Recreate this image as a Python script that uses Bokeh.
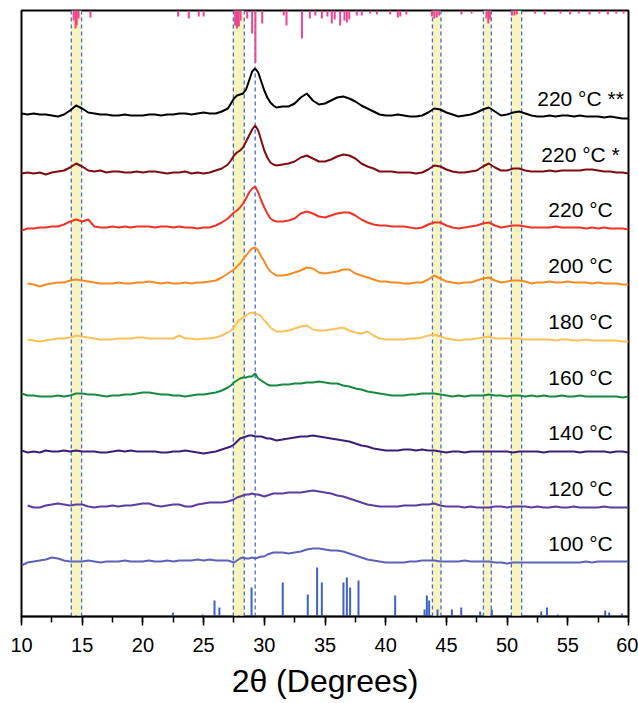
from bokeh.plotting import figure
from bokeh.models import Range1d, SingleIntervalTicker
from bokeh.embed import file_html
from bokeh.resources import INLINE
from bokeh.core.properties import value

nan = float("nan")

# 2-theta sampling grid (degrees)
two_theta = [10.0, 10.5, 11.0, 11.5, 12.0, 12.5, 13.0, 13.5, 14.0, 14.5, 15.0, 15.5, 16.0, 16.5, 17.0, 17.5,
             18.0, 18.5, 19.0, 19.5, 20.0, 20.5, 21.0, 21.5, 22.0, 22.5, 23.0, 23.5, 24.0, 24.5, 25.0, 25.5,
             26.0, 26.5, 27.0,
             27.25, 27.5, 27.75, 28.0, 28.25, 28.5, 28.75, 29.0, 29.25, 29.5, 29.75, 30.0, 30.25, 30.5, 30.75, 31.0,
             31.5, 32.0, 32.5, 33.0, 33.5, 34.0, 34.5, 35.0, 35.5, 36.0, 36.5, 37.0, 37.5, 38.0, 38.5, 39.0,
             39.5, 40.0, 40.5, 41.0, 41.5, 42.0, 42.5, 43.0, 43.5, 44.0, 44.5, 45.0, 45.5, 46.0, 46.5, 47.0,
             47.5, 48.0, 48.5, 49.0, 49.5, 50.0, 50.5, 51.0, 51.5, 52.0, 52.5, 53.0, 53.5, 54.0, 54.5, 55.0,
             55.5, 56.0, 56.5, 57.0, 57.5, 58.0, 58.5, 59.0, 59.5, 60.0]

# intensities (a.u.) of each pattern
i_220_2 = [4, 3, 4, 3, 3, 2, 1, 3, 7, 12, 9, 5, 4, 3, 3, 2, 2, 3, 2, 2, 2, 3, 3, 2, 3, 3, 4, 4, 3, 4, 5, 4, 4, 6, 9,
           14, 19, 22, 23, 24, 28, 37, 46, 49, 45, 36, 27, 20, 15, 12, 10,
           11, 11, 14, 20, 24, 17, 13, 14, 17, 20, 21, 19, 16, 12, 9, 6, 3, 2, 2, 3, 2, 1, 1, 2, 5, 9, 8, 5, 3, 1,
           2, 3, 5, 8, 10, 6, 2, 3, 5, 6, 4, 2, 1, 1, 2, 1, 2, 2, 1, 2, 1, 1, 1, 0, 1, 0, -1, -1]
i_220_1 = [0, 1, 0, 1, -1, 1, 2, 3, 6, 10, 7, 3, 2, 3, 1, 2, 2, 1, 1, 2, 1, 2, 2, 1, 0, 1, 1, 2, 0, 1, 0, 1, 3, 5, 9,
           13, 18, 21, 23, 26, 32, 38, 44, 48, 43, 33, 23, 16, 11, 9, 8,
           9, 10, 12, 16, 18, 15, 12, 12, 14, 17, 19, 18, 15, 10, 7, 5, 2, 2, 2, 1, 1, 1, 0, 1, 4, 8, 7, 4, 2, 1,
           1, 2, 3, 7, 10, 6, 3, 3, 5, 5, 3, 2, 2, 2, 3, 2, 3, 3, 3, 3, 4, 4, 3, 2, 2, 1, 1, 0]
i_220 = [-2, 0, 0, 1, 1, 2, 2, 4, 7, 9, 7, 9, 2, 1, 1, 2, 1, 2, 1, 2, 2, 2, 1, 2, 2, 1, 2, 1, 1, 0, 1, 1, 3, 6, 10,
         13, 16, 18, 21, 25, 30, 36, 40, 42, 36, 28, 21, 15, 10, 8, 7,
         7, 8, 10, 15, 17, 15, 12, 11, 13, 15, 16, 16, 13, 9, 6, 4, 3, 3, 2, 2, 2, 1, 0, 1, 4, 6, 6, 3, 1, 0,
         1, 2, 3, 5, 6, 3, 1, 2, 3, 3, 2, 1, 1, 1, 1, 2, 1, 1, 1, 1, 0, 1, 0, 1, 0, 0, 0, -1]
i_200 = [nan, 1, 0, -2, 0, 1, 2, 2, 4, 5, 4, 3, 2, 1, 1, 1, 2, 1, 1, 2, 2, 3, 2, 1, 2, 1, 1, 2, 1, 2, 2, 3, 4, 7, 11,
         13, 15, 18, 21, 25, 29, 33, 36, 37, 34, 28, 23, 17, 13, 11, 9,
         9, 10, 12, 14, 17, 16, 12, 11, 12, 13, 15, 15, 11, 9, 7, 5, 3, 3, 2, 2, 1, 1, 2, 2, 5, 9, 6, 3, 2, 1,
         2, 2, 4, 6, 7, 4, 2, 3, 4, 4, 3, 1, 2, 2, 3, 2, 2, 3, 2, 2, 2, 1, 2, 1, 1, 1, 0, 0]
i_180 = [nan, 1, 0, -1, 0, 1, 2, 2, 3, 5, 4, 3, 2, 1, 1, 1, 2, 2, 2, 3, 3, 2, 2, 2, 2, 2, 5, 2, 2, 1, 2, 2, 3, 5, 8,
         10, 13, 18, 21, 23, 25, 27, 28, 27, 26, 24, 20, 17, 13, 11, 9,
         9, 10, 12, 14, 15, 11, 10, 10, 11, 12, 13, 10, 8, 7, 9, 5, 2, 1, 1, 1, 1, 2, 2, 3, 5, 6, 4, 2, 1, 0,
         1, 1, 2, 3, 4, 2, 2, 2, 2, 2, 1, 1, 1, 1, 1, 0, 1, 1, 0, 0, 1, 0, 0, 0, 0, 0, -1, -1]
i_160 = [3, 1, 1, 0, 0, 0, 1, 0, 1, 3, 3, 2, 2, 1, 0, 1, 1, 2, 2, 3, 4, 4, 3, 2, 2, 1, 1, 0, 1, 2, 2, 3, 4, 6, 9,
         11, 14, 16, 18, 19, 19, 20, 20, 23, 18, 16, 14, 12, 11, 11, 11,
         12, 12, 13, 13, 14, 14, 15, 14, 13, 13, 11, 10, 8, 7, 5, 4, 3, 2, 1, 1, 1, 2, 2, 3, 3, 3, 2, 1, 0, 1,
         0, 1, 1, 1, 2, 1, 1, 0, 1, 1, 0, 1, 0, 1, 0, 0, 1, 0, 0, 1, 0, 0, 0, 0, 0, 0, -1, 0]
i_140 = [1, -1, 0, -1, 1, 0, 0, 1, 0, 1, 0, 0, 0, -1, -1, 0, 1, 0, 1, 0, 0, 0, 0, -1, -1, 0, 0, 1, 0, -1, -2, -1, 0, 2, 4,
         5, 7, 10, 13, 14, 15, 16, 16, 15, 15, 15, 14, 13, 13, 12, 11,
         12, 13, 14, 15, 15, 16, 15, 14, 13, 12, 11, 10, 8, 6, 5, 3, 2, 1, 1, 1, 2, 2, 1, 2, 1, 1, 0, -1, 0, 0,
         -1, 0, 0, 0, 0, 0, 0, 0, -1, 0, 0, 0, 0, -1, 0, 0, 0, 0, 0, -1, 0, 0, 0, 0, -1, 0, 0, -1]
i_120 = [nan, 2, 0, 0, 2, 3, 4, 3, 2, 3, 3, 1, 0, 1, 1, 2, 1, 2, 2, 3, 4, 4, 2, 1, 2, 3, 3, 1, 1, 3, 4, 5, 5, 5, 6,
         7, 8, 10, 11, 12, 13, 13, 14, 13, 13, 12, 11, 12, 13, 14, 14,
         14, 15, 15, 15, 16, 17, 16, 15, 14, 12, 11, 9, 7, 5, 3, 2, 1, 1, 1, 1, 2, 2, 2, 3, 3, 4, 2, 1, 1, 1,
         0, 1, 0, 0, 0, 1, 1, 0, 1, 1, 1, 0, 1, 0, 0, 1, 0, 0, 1, 0, 0, 0, 0, 1, 0, 0, 0, 0]
i_100 = [-3, 0, 1, 2, 3, 5, 4, 2, 1, 1, 1, 2, 1, 0, 1, 1, 1, 2, 1, 1, 1, 2, 1, 1, 2, 1, 2, 2, 2, 3, 2, 3, 2, 2, 2,
         1, 0, 2, 4, 5, 4, 4, 5, 4, 5, 6, 6, 8, 9, 10, 10,
         10, 9, 10, 11, 13, 14, 14, 13, 12, 12, 11, 9, 7, 5, 3, 2, 1, 0, 0, 0, 0, 1, 1, 2, 2, 2, 1, 1, 1, 1,
         2, 1, 1, 1, 1, 0, 0, -1, 0, 0, 0, 0, 0, 0, 0, 0, 0, 0, 0, 0, 1, 0, 1, 1, 1, 1, 1, 1]

series = [i_220_2, i_220_1, i_220, i_200, i_180, i_160, i_140, i_120, i_100]
labels = ["220 °C **", "220 °C *", "220 °C", "200 °C", "180 °C", "160 °C", "140 °C", "120 °C", "100 °C"]
offsets = [499, 443, 388, 332, 276, 220, 165, 109, 54]
colors = ["#000000", "#7d0d10", "#ef3327", "#f68b25", "#fdc05c", "#178a41", "#3c1f78", "#5b3d9f", "#5c63b8"]

# reference patterns: pink (top, hanging) and blue (bottom)
pink_pos = [14.3, 14.45, 14.55, 14.7, 15.68, 22.9, 23.78, 24.6, 25.0, 27.6, 27.75, 27.9, 28.05, 28.59, 29.0,
            29.27, 29.83, 31.6, 31.83, 33.1, 33.75, 34.2, 34.74, 35.2, 35.56, 35.8, 36.25, 36.6, 36.8, 37.0,
            37.62, 38.03, 38.72, 39.27, 40.37, 41.0, 41.2, 41.7, 43.8, 44.0, 44.2, 44.4, 46.24, 47.07, 48.3,
            48.45, 48.6, 50.4, 50.6, 50.8, 52.3, 53.1, 54.4, 55.2, 55.9, 56.8, 57.6, 58.3, 59.0, 59.6]
pink_int = [10, 18, 15, 8, 7, 6, 8, 6, 6, 15, 18, 16, 10, 8, 23,
            52, 13, 5, 15, 28, 8, 5, 8, 6, 13, 9, 15, 10, 12, 9,
            5, 5, 3, 4, 4, 7, 6, 4, 6, 8, 7, 5, 4, 3, 8,
            13, 9, 5, 5, 4, 3, 4, 3, 4, 3, 4, 3, 4, 3, 3]
blue_pos = [14.5, 22.47, 24.93, 25.9, 26.3, 27.9, 28.95, 31.52, 33.58, 34.35, 34.74, 36.52, 36.8, 37.07, 37.76,
            40.78, 43.2, 43.39, 43.58, 44.27, 45.45, 46.22, 46.96, 47.23, 47.78, 48.74, 50.25, 52.81, 53.28,
            54.18, 57.2, 58.08, 58.41, 59.45]
blue_int = [1, 4, 2, 16, 9, 1, 29, 34, 22, 49, 34, 34, 39, 29, 36,
            21, 7, 21, 16, 7, 7, 9, 1, 1, 5, 7, 1, 5, 9,
            2, 1, 6, 4, 3]

band_left = [14.1, 27.45, 43.85, 48.05, 50.35]
band_right = [14.95, 28.35, 44.55, 48.7, 51.2]
main_peak = [29.25]

Y_TOP = 606
FONT = "Liberation Sans"

p = figure(width=638, height=703, x_range=Range1d(10, 60), y_range=Range1d(0, Y_TOP),
           output_backend="svg", toolbar_location=None,
           min_border_left=21, min_border_right=10, min_border_top=10, min_border_bottom=87)
p.background_fill_color = "white"
p.border_fill_color = "white"
p.outline_line_color = "black"
p.outline_line_width = 2
p.xgrid.visible = False
p.ygrid.visible = False
p.yaxis.visible = False

# highlight bands
p.quad(left=band_left, right=band_right, bottom=0, top=Y_TOP, fill_color="#f8f4c0", line_color=None)
dash_x = band_left + band_right + main_peak
p.segment(x0=dash_x, y0=[0] * len(dash_x), x1=dash_x, y1=[Y_TOP] * len(dash_x),
          line_color="#4a6cc2", line_width=1.3, line_dash="4 3")

# reference sticks
p.segment(x0=pink_pos, y0=[Y_TOP] * len(pink_pos), x1=pink_pos, y1=[Y_TOP - v for v in pink_int],
          line_color="#ec4590", line_width=2)
p.segment(x0=blue_pos, y0=[0] * len(blue_pos), x1=blue_pos, y1=blue_int,
          line_color="#3d62c0", line_width=2)

# patterns
for ser, off, col in zip(series, offsets, colors):
    p.line(two_theta, [off + v for v in ser], line_color=col, line_width=2)

p.text(x=[56.05] * len(labels), y=[o + 19 for o in offsets], text=labels,
       text_align="center", text_baseline="middle", text_color="black",
       text_font=value(FONT), text_font_size="21px")

ax = p.xaxis[0]
ax.ticker = SingleIntervalTicker(interval=5, num_minor_ticks=2)
ax.axis_line_width = 1.5
ax.axis_line_color = "black"
ax.major_tick_line_width = 1.5
ax.minor_tick_line_width = 1.5
ax.major_tick_line_color = "black"
ax.minor_tick_line_color = "black"
ax.major_tick_in = 0
ax.major_tick_out = 9
ax.minor_tick_in = 0
ax.minor_tick_out = 6
ax.major_label_text_font = FONT
ax.major_label_text_font_size = "20px"
ax.major_label_text_color = "black"
ax.major_label_standoff = 12
ax.axis_label = "2θ (Degrees)"
ax.axis_label_text_font = FONT
ax.axis_label_text_font_size = "32px"
ax.axis_label_text_font_style = "normal"
ax.axis_label_text_color = "black"
ax.axis_label_standoff = 8

open("out.html", "w").write(file_html(p, INLINE))
